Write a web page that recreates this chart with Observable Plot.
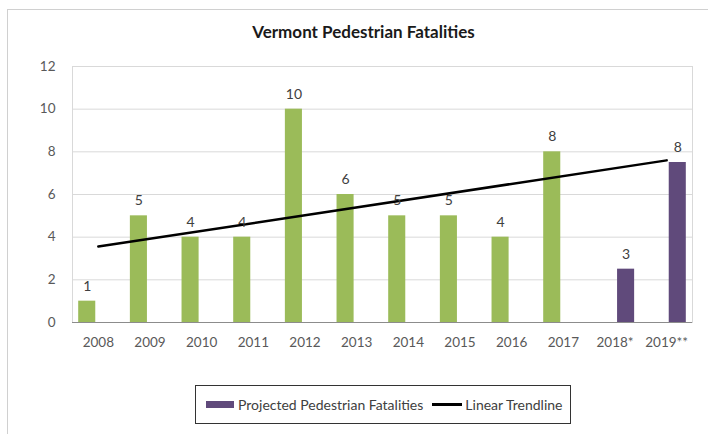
<!DOCTYPE html>
<html><head><meta charset="utf-8">
<script src="https://cdn.jsdelivr.net/npm/d3@7"></script>
<script src="https://cdn.jsdelivr.net/npm/@observablehq/plot@0.6"></script>
<style>
body{margin:0;background:#fff;font-family:Lato,"Liberation Sans",sans-serif;}
#wrap{position:relative;width:709px;height:434px;overflow:hidden;}
#border{position:absolute;left:7px;top:9px;width:700px;height:440px;border-top:1px solid #d0d0d0;border-left:1px solid #d0d0d0;}
#title{position:absolute;left:0;width:727px;top:21px;text-align:center;font-weight:bold;font-size:17px;color:#1a1a1a;}
#chart{position:absolute;left:0;top:0;}
#legend{position:absolute;left:195px;top:385px;width:376px;height:39px;border:1px solid #333;box-sizing:border-box;display:flex;align-items:center;font-size:14px;color:#404040;}
.sw{display:inline-block;width:28px;height:7px;background:#604a7b;margin-left:10px;margin-right:4px;}
.ln{display:inline-block;width:30px;height:2.5px;background:#000;margin-left:9px;margin-right:3px;}
</style>
</head><body>
<div id="wrap">
<div id="border"></div>
<div id="chart"></div>
<div id="title">Vermont Pedestrian Fatalities</div>
<div id="legend"><span class="sw"></span><span>Projected Pedestrian Fatalities</span><span class="ln"></span><span>Linear Trendline</span></div>
</div>
<script>
const years = ["2008","2009","2010","2011","2012","2013","2014","2015","2016","2017","2018*","2019**"];
const actual = [1,5,4,4,10,6,5,5,4,8,null,null];
const projected = [null,null,null,null,null,null,null,null,null,null,2.5,7.5];
const labels = ["1","5","4","4","10","6","5","5","4","8","3","8"];
const yTicks = [0,2,4,6,8,10,12];
const trendYears = ["2008","2019**"];
const trendValues = [3.56,7.6];

const rows = years.map((year,i)=>({year, actual:actual[i], projected:projected[i], label:labels[i]}));
const actualRows = rows.filter(d=>d.actual!=null);
const projRows = rows.filter(d=>d.projected!=null);
const trend = trendYears.map((year,i)=>({year, value:trendValues[i]}));

const chart = Plot.plot({
  width:709, height:434, marginLeft:72, marginRight:17, marginTop:66, marginBottom:112,
  style:{fontFamily:"Lato, 'Liberation Sans', sans-serif", fontSize:"13.5px", color:"#595959", background:"transparent"},
  x:{type:"band", domain:years, padding:0, round:false, tickSize:0, tickPadding:15, label:null},
  y:{domain:[0,12], ticks:yTicks, tickSize:0, tickPadding:17, label:null},
  marks:[
    Plot.gridY(yTicks, {stroke:"#d9d9d9", strokeOpacity:1}),
    Plot.frame({stroke:"#d9d9d9"}),
    Plot.barY(actualRows, {x:"year", y:"actual", fill:"#9bbb59", insetLeft:6.2, insetRight:28.4}),
    Plot.barY(projRows, {x:"year", y:"projected", fill:"#604a7b", insetLeft:28.4, insetRight:6.2}),
    Plot.ruleY([0], {stroke:"#8c8c8c"}),
    Plot.line(trend, {x:"year", y:"value", stroke:"#000", strokeWidth:2.5}),
    Plot.text(actualRows, {x:"year", y:"actual", text:"label", dx:-11.1, dy:-15, fill:"#404040", fontSize:14}),
    Plot.text(projRows, {x:"year", y:"projected", text:"label", dx:11.1, dy:-15, fill:"#404040", fontSize:14})
  ]
});
document.getElementById("chart").appendChild(chart);
</script>
</body></html>
